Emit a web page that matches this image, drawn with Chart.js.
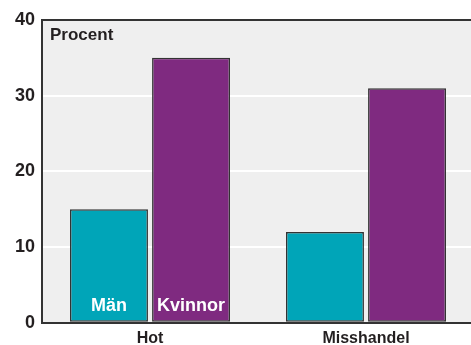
<!DOCTYPE html>
<html>
<head>
<meta charset="utf-8">
<script src="https://cdn.jsdelivr.net/npm/chart.js@4/dist/chart.umd.min.js"></script>
<style>
  html, body { margin: 0; padding: 0; background: #ffffff; overflow: hidden; }
  #wrap { width: 474px; height: 354px; }
</style>
</head>
<body>
<div id="wrap"><canvas id="c" width="474" height="354"></canvas></div>
<script>
// Andel som utsatts för hot och misshandel, per kön (procent)
const categories = ['Hot', 'Misshandel'];
const seriesNames = ['Män', 'Kvinnor'];
const menValues = [15, 12];
const womenValues = [35, 31];
const yTickValues = [0, 10, 20, 30, 40];

const FONT = '"Liberation Sans", Arial, Helvetica, sans-serif';
const INK = '#231f20';

// Plot background, top frame line, unit text and in-bar series names
const decor = {
  id: 'decor',
  beforeDraw(chart) {
    const { ctx, chartArea: a } = chart;
    ctx.save();
    ctx.fillStyle = '#efefef';
    ctx.fillRect(a.left, a.top, a.right - a.left, a.bottom - a.top);
    ctx.restore();
  },
  afterDraw(chart) {
    const { ctx, chartArea: a } = chart;
    ctx.save();
    ctx.strokeStyle = '#333333';
    ctx.lineWidth = 2;
    ctx.beginPath();
    ctx.moveTo(a.left - 1, a.top);
    ctx.lineTo(chart.width, a.top);
    ctx.stroke();

    ctx.fillStyle = INK;
    ctx.font = 'bold 17px ' + FONT;
    ctx.textAlign = 'left';
    ctx.textBaseline = 'alphabetic';
    ctx.fillText('Procent', a.left + 8, a.top + 20);

    ctx.fillStyle = '#ffffff';
    ctx.font = 'bold 18px ' + FONT;
    ctx.textAlign = 'center';
    chart.data.datasets.forEach((ds, i) => {
      const bar = chart.getDatasetMeta(i).data[0];
      ctx.fillText(ds.label, bar.x, a.bottom - 12);
    });
    ctx.restore();
  }
};

new Chart(document.getElementById('c'), {
  type: 'bar',
  data: {
    labels: categories,
    datasets: [
      {
        label: seriesNames[0],
        data: menValues,
        backgroundColor: '#00a5b8',
        borderColor: '#333333',
        borderWidth: 1.5,
        borderSkipped: false
      },
      {
        label: seriesNames[1],
        data: womenValues,
        backgroundColor: '#7f2a80',
        borderColor: '#333333',
        borderWidth: 1.5,
        borderSkipped: false
      }
    ]
  },
  options: {
    responsive: false,
    animation: false,
    devicePixelRatio: 1,
    layout: { padding: { top: 20, right: 0, bottom: 0, left: 8 } },
    datasets: { bar: { barPercentage: 0.95, categoryPercentage: 0.76 } },
    plugins: { legend: { display: false }, tooltip: { enabled: false } },
    scales: {
      x: {
        grid: { display: false, drawTicks: false },
        border: { color: '#333333', width: 2 },
        ticks: { color: INK, font: { family: FONT, size: 16, weight: 'bold' }, padding: 6 }
      },
      y: {
        min: 0,
        max: 40,
        afterBuildTicks(scale) { scale.ticks = yTickValues.map(v => ({ value: v })); },
        grid: {
          drawTicks: false,
          lineWidth: 2,
          color: c => (c.tick && (c.tick.value === 0 || c.tick.value === 40)) ? 'rgba(0,0,0,0)' : '#ffffff'
        },
        border: { color: '#333333', width: 2 },
        ticks: { color: INK, font: { family: FONT, size: 18, weight: 'bold' }, padding: 7 }
      }
    }
  },
  plugins: [decor]
});
</script>
</body>
</html>
